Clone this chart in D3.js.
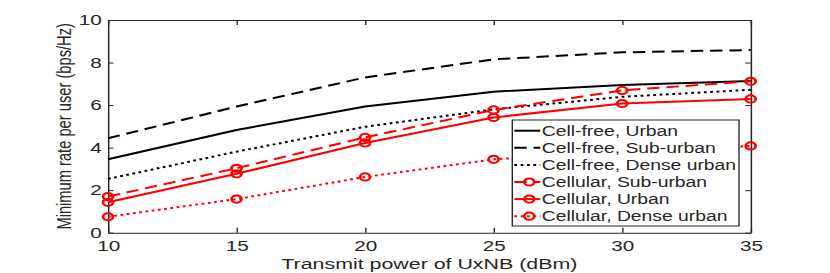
<!DOCTYPE html>
<html>
<head>
<meta charset="utf-8">
<script src="https://cdn.jsdelivr.net/npm/d3@7"></script>
<style>
  body { margin: 0; background: #fff; }
  svg { display: block; }
  text { font-family: "Liberation Sans", Arial, Helvetica, sans-serif; fill: #262626; }
</style>
</head>
<body>
<script>
// data
var powers = [10, 15, 20, 25, 30, 35];
var cellFreeUrban    = [3.45, 4.83, 5.93, 6.63, 6.94, 7.13];
var cellFreeSubUrban = [4.44, 5.93, 7.30, 8.15, 8.48, 8.59];
var cellFreeDense    = [2.53, 3.81, 4.98, 5.80, 6.39, 6.72];
var cellularSubUrban = [1.70, 3.03, 4.48, 5.77, 6.69, 7.12];
var cellularUrban    = [1.43, 2.77, 4.22, 5.42, 6.07, 6.29];
var cellularDense    = [0.75, 1.58, 2.62, 3.45, 3.80, 4.08];
var yTicks = [0, 2, 4, 6, 8, 10];
var seriesNames = ["Cell-free, Urban", "Cell-free, Sub-urban", "Cell-free, Dense urban",
                   "Cellular, Sub-urban", "Cellular, Urban", "Cellular, Dense urban"];

// the original picture is stretched horizontally, so draw in a narrower box and stretch it
var SX = 1.38;
var svgWidth = 830, svgHeight = 273;
var innerW = svgWidth / SX;
var margin = {top: 20, right: (830 - 750.7) / SX, bottom: 273 - 232.7, left: 108 / SX};
var width = innerW - margin.left - margin.right;
var height = svgHeight - margin.top - margin.bottom;

var svg = d3.select("body").append("svg")
    .attr("width", svgWidth)
    .attr("height", svgHeight)
    .attr("viewBox", "0 0 " + innerW + " " + svgHeight)
    .attr("preserveAspectRatio", "none");

var g = svg.append("g")
    .attr("transform", "translate(" + margin.left + "," + margin.top + ")");

var x = d3.scaleLinear().domain([10, 35]).range([0, width]);
var y = d3.scaleLinear().domain([0, 10]).range([height, 0]);

// axes with ticks inside (matlab box style)
var axisColor = "#262626";
function styleAxis(sel, showText) {
  sel.select(".domain").attr("stroke", axisColor).attr("stroke-width", 1.1);
  sel.selectAll(".tick line").attr("stroke", axisColor).attr("stroke-width", 1);
  sel.selectAll(".tick text").attr("font-size", "15px").attr("fill", axisColor)
     .style("display", showText ? null : "none");
}
g.append("g").attr("transform", "translate(0," + height + ")")
  .call(d3.axisBottom(x).tickValues(powers).tickSize(-5).tickSizeOuter(0).tickPadding(8))
  .call(styleAxis, true);
g.append("g")
  .call(d3.axisTop(x).tickValues(powers).tickSize(-5).tickSizeOuter(0))
  .call(styleAxis, false);
g.append("g")
  .call(d3.axisLeft(y).tickValues(yTicks).tickSize(-4).tickSizeOuter(0).tickPadding(4.5))
  .call(styleAxis, true);
g.append("g").attr("transform", "translate(" + width + ",0)")
  .call(d3.axisRight(y).tickValues(yTicks).tickSize(-4).tickSizeOuter(0))
  .call(styleAxis, false);

var series = [
  {name: seriesNames[0], values: cellFreeUrban,    color: "#000", dash: null,   marker: false},
  {name: seriesNames[1], values: cellFreeSubUrban, color: "#000", dash: "9,5", marker: false},
  {name: seriesNames[2], values: cellFreeDense,    color: "#000", dash: "2,2.6", marker: false},
  {name: seriesNames[3], values: cellularSubUrban, color: "#ff0000", dash: "9,5", marker: true},
  {name: seriesNames[4], values: cellularUrban,    color: "#ff0000", dash: null,   marker: true},
  {name: seriesNames[5], values: cellularDense,    color: "#ff0000", dash: "2,2.6", marker: true}
];

var line = d3.line()
  .x(function(d, i){ return x(powers[i]); })
  .y(function(d){ return y(d); });

series.forEach(function(s){
  g.append("path")
    .datum(s.values)
    .attr("fill", "none")
    .attr("stroke", s.color)
    .attr("stroke-width", 2)
    .attr("stroke-dasharray", s.dash)
    .attr("d", line);
  if (s.marker) {
    g.selectAll(null)
      .data(s.values)
      .enter()
      .append("circle")
      .attr("cx", function(d, i){ return x(powers[i]); })
      .attr("cy", function(d){ return y(d); })
      .attr("r", 3.6)
      .attr("fill", "none")
      .attr("stroke", s.color)
      .attr("stroke-width", 2);
  }
});

// legend (opaque, covers the lines behind it)
var lgX = 512.3 / SX - margin.left, lgY = 120 - margin.top;
var lgW = (739 - 512.3) / SX, lgH = 106;
var legend = g.append("g").attr("transform", "translate(" + lgX + "," + lgY + ")");
legend.append("rect")
  .attr("width", lgW).attr("height", lgH)
  .attr("fill", "#fff").attr("stroke", axisColor).attr("stroke-width", 1);
var rowH = 17.1;
series.forEach(function(s, i){
  var cy = 10.7 + i * rowH;
  var x0 = 2 / SX, x1 = 28 / SX;
  legend.append("line")
    .attr("x1", x0).attr("x2", x1).attr("y1", cy).attr("y2", cy)
    .attr("stroke", s.color).attr("stroke-width", 2)
    .attr("stroke-dasharray", s.dash);
  if (s.marker) {
    legend.append("circle")
      .attr("cx", (x0 + x1) / 2 + 2 / SX).attr("cy", cy).attr("r", 3.6)
      .attr("fill", "none").attr("stroke", s.color).attr("stroke-width", 2);
  }
  legend.append("text")
    .attr("x", 29.5 / SX).attr("y", cy + 5.2)
    .attr("font-size", "14px")
    .attr("fill", "#000")
    .text(s.name);
});

// axis titles
svg.append("text")
  .attr("x", margin.left + width / 2)
  .attr("y", 269.5)
  .attr("text-anchor", "middle")
  .attr("font-size", "15.5px")
  .text("Transmit power of UxNB (dBm)");

svg.append("text")
  .attr("transform", "translate(" + (71 / SX) + "," + (margin.top + height / 2) + ") rotate(-90)")
  .attr("text-anchor", "middle")
  .attr("font-size", "14.7px")
  .text("Minimum rate per user (bps/Hz)");
</script>
</body>
</html>
